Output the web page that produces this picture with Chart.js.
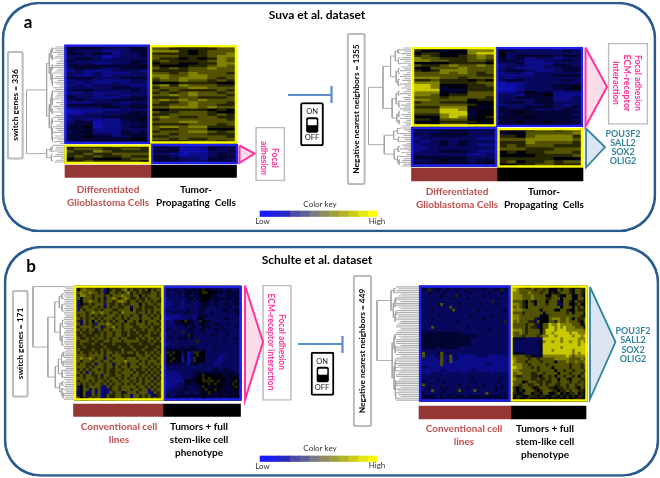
<!DOCTYPE html>
<html><head><meta charset="utf-8">
<script src="https://cdn.jsdelivr.net/npm/chart.js@4/dist/chart.umd.min.js"></script>
<style>html,body{margin:0;padding:0;background:#fff}canvas{display:block;filter:blur(0.4px)}</style>
</head><body><canvas id="c" width="660" height="478"></canvas>
<script>
// Expression levels: 0 bright blue ... 5 black ... 9 bright yellow
const levelColors=['#1414e0','#1010b0','#0c0c88','#08085c','#040434','#00000c','#262600','#525200','#808000','#c8c800'];
const keyColors=['#1a1aff','#2020e0','#2a2ac0','#4a4aa8','#5f5f98','#7a7a80','#8c8c60','#a0a040','#b4b428','#cccc18','#e6e60c','#ffff00'];

const suvaSwitchUpDiff=["444444445","444433344","433322344","443442334","333312334","344323333","433333344","333223343","444444445","344433444","232223332","332322233","322323333","444333444","233222233","323223233","232333322","333334433","344333343","223222333","333233233","433222344","343334444","222333233","444443344","333344344","122222333","112233344","223333444","333344444","232222445","344122344","344122334","445122344","444222333","345222434","444332444","445443344","444444455","344444445"];
const suvaSwitchUpTpc=["887666788","776666677","888656777","666656778","777666788","766565687","676666787","566556688","655566787","767677877","666677777","776787776","887788777","787888767","677877676","555666655","786877766","677788777","767666676","676787767","778787776","666776667","787878777","766787776","667787766","778887877","556666565","766777655","667777676","787667766","677777776","777887777","666677767","788788666","766777555","677788767","776777666","667777776","776766777","666677767"];
const suvaSwitchLowDiff=["666667666","677766776","766876666","667667777","676766766","566555677","667666665"];
const suvaSwitchLowTpc=["443222444","334112433","444111334","332122343","443222344","444332443","444333444"];
const suvaNegUpDiff=["665445888","655455888","566555899","676556787","877666787","887766776","555566665","766787787","557778777","656888777","777878767","777777766","888776777","667666565","888666677","998555667","998455666","999444666","888545777","887566777","777677776","887777566","677666555","777777655","666888544","777998455","777999455","666899455","555898456","665777555","555666655","665777545"];
const suvaNegUpTpc=["433444333","443333343","533333333","534444344","434233233","443223343","334222333","233223443","332223344","344322344","233233333","222233444","323333333","344333343","122333333","112333444","112333445","112333344","223544222","332445222","334444223","333344223","344344333","233334323","433444334","444433343","445444444","344444443","444544444","444444443","445445444","444444443"];
const suvaNegLowDiff=["444444444","333444333","334444333","233333322","323434333","233434322","223333333","233444322","333333223","444444333","334544344","444444445"];
const suvaNegLowTpc=["554677677","455777778","665788886","777888887","666877776","676777666","777666777","565667776","555566667","666666555","675667677","556677666"];
const schulteSwitchConv=["767766776765766777676767776776","757877766725676678676676757677","678778776725776767867676667767","768877677767677787767757677767","675777676737787678766766767776","725778776767767887677676776766","725667677727667676677757677677","726776776737677667737767666767","727677767677766777757667676777","677767877877677687777677676767","767767676767776767767737767676","776767767677767767677767776776","763767576767676775776757677767","773767627778767767766777676776","667777677367786767776677767667","776767737677677767767667677676","667667666767767766766766676767","766766676767767766766676776667","776676767767677677666767677676","767776676677677767777766676767","667666766766676666766676667666","666766666676666766676666766676","676666766767666676667667666766","767667676767767676776766767676","777767777767677766666776776767","678778767737767776777677767677","776777677677677778777767677767","767766737767737767377677676777","677767677767767677677767767676","767676776767667767767667676767","776737677767667677776766767673","667677667377667767767767676767","777677767676776767677676767376","767776767767677677767676776767","676767677676767767676776767677","735767777237677677777677676767","725773737232677677767767737677","335733727232767736777677723767","735733767237667767737767673367","775667677237667767737767676767"];
const schulteSwitchTumor=["44443444344445554444344444","34344334445456554444344334","33333434544456655544344444","33333334434455554433344434","23333333453445554444444344","22333323433355543443343444","32233323333334443433443344","22333223332344433343334333","33323333433344333333443344","43343334433343334333343344","22222233332344433333333334","11222223332454333333443333","33234456543365443333333333","33234445443355433443343334","33333334344334443334333343","34333333443344333443433333","33343363344334333333343333","33333334643333334433343333","33433444343333333333333343","33333333333633333333433333","22333333333333333333333333","33333343344333333433333333","44444444544434333333333333","46565535136655333333333333","35655524135655333332233333","35565515136555333322333333","45654514136555333322333333","44444443145433333223333333","33333333333333333333333333","23333333333333333443443333","32222333334444444444444433","22222233334456555555445444","22222233344556565555544554","12222225544556666565544565","11222334544455565655445654","22223334334446545555444565","22333344433445655654444454","33333443343345465444445444","34334444444445444445444445","44344444434445444444344444"];
const schulteNegConv=["443343444434344634435444343344","343634433433433433433433344634","333433334333333343333334333433","333333343333643333333433333333","334333333334333343333333334333","333333333333333333333333633333","433333473333343334334333343333","333333333373333333333333333333","333343333337333333343333333343","233333333333333333333333333333","333333433333333334333333433333","333343333333333333333433333333","333333333333433333333333333363","233333333333333333333333333333","333373333333333343333333333333","333333333333333333333334333333","444444444444443333333333333333","444444444444444444433333333333","445444444454444443333333333333","444444444444444443333333333333","544444454444444443333333333333","444444344444433333333333333333","333333333333333333333333333333","373333473433333333333333333333","372323372373322222233332222233","232222372372322222222222222222","222222272372222222222222222222","222222272222222222222233222222","333222222222222222222222222232","222222233222222223322222222222","332233332333332333333333233333","333333333333333333333333333333","333333433333333334333333333433","343333334333333333433333334333","373333333333343333333433333333","433433343433333343343333343433","333373334333373333733333343333","343333343334333333333373333343","344443343443444344444344444344","444444344344443444443444344444"];
const schulteNegTumor=["88877558767775544577665576","99877777677675557677657766","88877787776775656777657765","88887778777755776557755765","88887778777766777577755775","77776576577757773577657665","88876377577767773377556755","77876577777777777577757675","88887777775777755776557666","77776777777577777776757775","88877777775557777777777765","88877777635557888778757667","87877766375557768778777657","77777677635779889888877756","77777676635779989898887775","88887677775799989998888887","77787677775799899999899888","87776777767889989999989989","44444333333999999899999888","33333333344899899899899898","33333333344999999999999899","33333333334999999899999999","33333333334999899999989999","44444333334999999999989899","77777664444888888889878888","88777767767777788888777787","98777677776777757778778778","88887767777767777777677767","99887776767777577777677767","88877777767777757767767776","87887776677677775777677767","77667776665776757767767577","88777776676676775776577766","77775677766766776777677676","87767766776767766776776776","66567776567776656676776576","76565777656777665667677665","56556775665775567565667565","65665566656655665656565665","55655665565565656556556655"];

// Dendrograms: node = [merge height, child, child], leaf = row position 0..1
const treeSuvaSwitch=[1,[.24,[.14,[.07,[.03,.015,.05],[.03,.08,.12]],[.08,[.03,.16,.2],[.04,[.02,.24,.27],[.02,.3,.34]]]],[.14,[.08,[.04,[.02,.38,.42],[.02,.46,.5]],[.03,.54,.58]],[.07,[.03,.62,.66],[.04,[.02,.7,.74],[.02,.78,.82]]]]],[.24,[.08,[.03,.86,.88],.9],[.06,.93,.98]]];
const treeSuvaNeg=[1,[.54,[.3,[.15,[.06,.02,.05],[.05,.09,.14]],[.12,[.05,.18,.22],[.06,.27,.32]]],[.25,[.12,[.05,.37,.4],[.04,.45,.5]],[.1,[.04,.54,.58],[.03,.61,.64]]]],[.5,[.2,[.08,.68,.72],[.05,.75,.79]],[.18,[.06,.83,.87],[.08,.91,[.03,.94,.98]]]]];
const treeSchulteSwitch=[1,.005,[.52,[.3,[.15,[.07,.07,.11],[.06,.16,.22]],[.12,[.05,.3,.36],[.06,.44,.52]]],[.28,[.18,[.08,[.03,.58,.62],[.03,.66,.7]],[.06,.74,.8]],[.14,[.06,.84,.87],[.07,.9,[.03,.94,.98]]]]]];
const treeSchulteNeg=[1,[.26,[.1,.02,.06],[.14,[.06,[.02,.1,.14],.18],[.05,[.02,.22,.26],.31]]],[.2,[.1,[.05,.42,.46],[.05,.52,.58]],[.1,[.05,[.02,.64,.68],.74],[.04,[.02,.82,.87],[.02,.93,.98]]]]];
// Leaf tip lengths (digit = share of the tip band)
const tipsSuvaSwitch="797957936689579279586397956792639759279583697592795839679579268";
const tipsSuvaNeg="695837959285936957295836927593859628593647952968593759283957968";
const tipsSchulteSwitch="979989798997989979989799799897998997989979989799879979898979989";
const tipsSchulteNeg="989978997998799989978997899879997999897998989798997899979898799";

const blue='#2020ee',yellow='#fafa00',pink='#ff3399',teal='#31859c',brick='#c0504d',inhibit='#5b8dc6',boxGrey='#bdbdbd',navy='#2b5c8f';

const datasets=[];
function rect(x0,x1,y0,y1,o={}){
  datasets.push(Object.assign({type:'bar',data:[{x:(x0+x1)/2,y:[y0,y1]}],barThickness:x1-x0,grouped:false,borderSkipped:false,
    backgroundColor:'rgba(0,0,0,0)',borderWidth:0,order:4,clip:false},o));
}
function heat(rows,x0,x1,y0,y1){
  const n=rows[0].length,m=rows.length,w=(x1-x0)/n,h=(y1-y0)/m,data=[],colors=[];
  rect(x0,x1,y0,y1,{backgroundColor:'#0a0a18',order:4});
  rows.forEach((r,i)=>{[...r.slice(0,n)].forEach((d,j)=>{
    data.push({x:x0+w*(j+.5),y:[y0+h*i,y0+h*(i+1)+.4]});colors.push(levelColors[+d]);
  });});
  datasets.push({type:'bar',data,backgroundColor:colors,barThickness:w+.4,grouped:false,borderWidth:0,order:3,clip:false});
}
function poly(points,stroke,fill,width,order){
  datasets.push({type:'line',data:points.map(p=>({x:p[0],y:p[1]})),borderColor:stroke,borderWidth:width,
    backgroundColor:fill||'rgba(0,0,0,0)',fill:fill?'shape':false,pointRadius:0,tension:0,order:order||1,clip:false,borderJoinStyle:'miter'});
}
function dendro(tree,xRoot,xLeaf,y0,y1,tips,xTipEnd){
  const pts=[],gap={x:NaN,y:NaN};
  const walk=n=>{
    if(typeof n==='number')return{x:xLeaf,y:y0+n*(y1-y0)};
    const a=walk(n[1]),b=walk(n[2]),x=xLeaf-n[0]*(xLeaf-xRoot),y=(a.y+b.y)/2;
    pts.push({x:a.x,y:a.y},{x,y:a.y},{x,y:b.y},{x:b.x,y:b.y},gap);
    return{x,y};
  };
  walk(tree);
  datasets.push({type:'line',data:pts,borderColor:'#a4a4a4',borderWidth:.9,pointRadius:0,tension:0,fill:false,order:2,clip:false,spanGaps:false});
  const tp=[];
  [...tips].forEach((d,i)=>{const y=y0+(i+.5)*(y1-y0)/tips.length;
    tp.push({x:xTipEnd,y},{x:xTipEnd-(+d+1)/10*(xTipEnd-xLeaf),y},gap);});
  datasets.push({type:'line',data:tp,borderColor:'#b0b0b0',borderWidth:1.1,pointRadius:0,tension:0,fill:false,order:2,clip:false,spanGaps:false});
}
function frame(x0,x1,y0,y1,c){rect(x0,x1,y0,y1,{borderColor:c,borderWidth:1.9,order:1});}
function labelBox(x0,x1,y0,y1,w,r){rect(x0,x1,y0,y1,{borderColor:boxGrey,borderWidth:w,borderRadius:r||0,order:2});}
function toggle(x,y){
  rect(x,x+23,y,y+43.5,{borderColor:'#000',borderWidth:2,borderRadius:2,backgroundColor:'#fff',order:2});
  rect(x+6,x+17.5,y+15,y+30,{backgroundColor:'#000',borderRadius:2,order:1});
  rect(x+7.5,x+16,y+17,y+22.5,{backgroundColor:'#fff',borderRadius:1,order:0});
}
function key(y){
  const w=(377-260)/keyColors.length;
  keyColors.forEach((c,i)=>rect(260+w*i,260+w*(i+1)+.3,y,y+5.5,{backgroundColor:c}));
}

// panels
rect(2,656,2,232,{borderColor:navy,borderWidth:2,borderRadius:36,order:9});
rect(4,659,246,476.5,{borderColor:navy,borderWidth:2,borderRadius:36,order:9});

// panel a, left
dendro(treeSuvaSwitch,26.5,53,46,163,tipsSuvaSwitch,64.5);
heat(suvaSwitchUpDiff,65,149.5,45.5,143);heat(suvaSwitchUpTpc,150.5,236.5,45.5,143);
heat(suvaSwitchLowDiff,65,150.5,145.5,163);heat(suvaSwitchLowTpc,151,237,145.5,163);
frame(64.5,149.5,44.5,144,blue);frame(150,237,45,143.5,yellow);frame(64.5,151,144.5,164,yellow);frame(151,238,144,164,blue);
rect(65,151,165,177.5,{backgroundColor:'#943634'});rect(151,236.5,165,177.5,{backgroundColor:'#000'});
poly([[239.5,145.5],[254.5,153.5],[239.5,163],[239.5,145.5]],pink,'#fbdce9',2);
labelBox(255.5,285,127,181,1);
labelBox(7,23.5,51,159.5,1.6,3);
// panel a, right
dendro(treeSuvaNeg,368.5,400,47,167,tipsSuvaNeg,411);
heat(suvaNegUpDiff,412.5,495.5,47.5,126);heat(suvaNegUpTpc,496.5,582,47.5,126);
heat(suvaNegLowDiff,411.5,496,127.5,166);heat(suvaNegLowTpc,498,582.5,128.5,167);
frame(412,496,47,126.5,yellow);frame(496,583,47,127,blue);frame(411,497,127,166.5,blue);frame(497.5,583,128,167.5,yellow);
rect(411.5,497,168,181,{backgroundColor:'#943634'});rect(497,583,168,181,{backgroundColor:'#000'});
poly([[585.5,47.5],[607,87],[585.5,126.5],[585.5,47.5]],pink,'#fbdce9',2);
poly([[586,128.5],[605,147],[586,167.5],[586,128.5]],teal,'#dce6f2',1.8);
labelBox(608,648,43,124.5,1);
labelBox(347,365.5,33,185,1.6,3);
// panel a, middle
poly([[288,95],[331,95]],inhibit,null,2);poly([[331.5,86],[331.5,103]],inhibit,null,2.2);
toggle(300.5,102.5);
key(211);

// panel b, left
dendro(treeSchulteSwitch,33,64,286,400,tipsSchulteSwitch,74);
heat(schulteSwitchConv,74.5,163,286,400);heat(schulteSwitchTumor,164,241,286,400);
frame(74,163.5,285.5,400.5,yellow);frame(163.5,241.5,286,400.5,blue);
rect(73.5,163,404,416.5,{backgroundColor:'#943634'});rect(163,240.5,404,416.5,{backgroundColor:'#000'});
poly([[245,285.5],[263,342],[245,400],[245,285.5]],pink,'#fbdce9',2);
labelBox(262.5,291.5,285,400.5,1);
labelBox(12,28.5,290,397.5,1.6,3);
// panel b, right
dendro(treeSchulteNeg,377,396,286,401,tipsSchulteNeg,419);
heat(schulteNegConv,419.5,510,286,401);heat(schulteNegTumor,511,587,286,401);
frame(419,510.5,285.5,401.5,blue);frame(510.5,587.5,285.5,401.5,yellow);
rect(419,511,406,419,{backgroundColor:'#943634'});rect(511,586,406,419,{backgroundColor:'#000'});
poly([[590,287],[615.5,342],[590,399],[590,287]],teal,'#dce6f2',1.8);
labelBox(353,372,275,427,1.6,3);
// panel b, middle
poly([[298,344],[342,344]],inhibit,null,2);poly([[342.5,336],[342.5,353]],inhibit,null,2.2);
toggle(311,352);
key(456);

const B='bold ',F='Lato, "Open Sans", sans-serif';
const texts=[
 ['Suva et al. dataset',317,15,0,'#000',B+'12px '+F],
 ['a',28,23,0,'#000',B+'17px '+F],
 ['switch genes = 336',15.5,105,-90,'#000',B+'8.4px '+F],
 ['Differentiated',108,190,0,brick,B+'10px '+F],
 ['Glioblastoma Cells',108,203,0,brick,B+'10px '+F],
 ['Tumor-',196,190,0,'#000',B+'10px '+F],
 ['Propagating  Cells',196,203,0,'#000',B+'10px '+F],
 ['Focal',275,158,90,pink,B+'8.5px '+F],
 ['adhesion',264,158,90,pink,B+'8.5px '+F],
 ['ON',312,111.5,0,'#222','7.5px '+F],['OFF',312,138,0,'#222','7.5px '+F],
 ['Color key',320,204,0,'#333','8px '+F],
 ['Low',262.5,221.5,0,'#333','8px '+F],['High',377,221,0,'#333','8px '+F],
 ['Negative nearest neighbors = 1355',356.5,109,-90,'#000',B+'8.3px '+F],
 ['Differentiated',457,192,0,brick,B+'10px '+F],
 ['Glioblastoma Cells',457,205,0,brick,B+'10px '+F],
 ['Tumor-',544,192,0,'#000',B+'10px '+F],
 ['Propagating  Cells',544,205,0,'#000',B+'10px '+F],
 ['Focal adhesion',638,83,90,pink,B+'8.5px '+F],
 ['ECM-receptor',627,83,90,pink,B+'9px '+F],
 ['interaction',616,83,90,pink,B+'9px '+F],
 ['POU3F2',623,134,0,teal,B+'9px '+F],['SALL2',623,143,0,teal,B+'9px '+F],
 ['SOX2',623,152,0,teal,B+'9px '+F],['OLIG2',623,161,0,teal,B+'9px '+F],
 ['Schulte et al. dataset',317,260,0,'#000',B+'12px '+F],
 ['b',31,267,0,'#000',B+'17px '+F],
 ['switch genes = 171',20.5,343.5,-90,'#000',B+'8.4px '+F],
 ['Conventional cell',119,427,0,brick,B+'10px '+F],['lines',119,440,0,brick,B+'10px '+F],
 ['Tumors + full',199,427,0,'#000',B+'10px '+F],['stem-like cell',199,440,0,'#000',B+'10px '+F],['phenotype',199,453,0,'#000',B+'10px '+F],
 ['Focal adhesion',282,342,90,pink,B+'8.5px '+F],['ECM-receptor interaction',271,342,90,pink,B+'8.5px '+F],
 ['ON',322,361.5,0,'#222','7.5px '+F],['OFF',322,388,0,'#222','7.5px '+F],
 ['Color key',320,448.5,0,'#333','8px '+F],
 ['Low',262.5,466,0,'#333','8px '+F],['High',377,465.5,0,'#333','8px '+F],
 ['Negative nearest neighbors = 449',362.5,351,-90,'#000',B+'8.3px '+F],
 ['Conventional cell',464,429,0,brick,B+'10px '+F],['lines',464,442,0,brick,B+'10px '+F],
 ['Tumors + full',545,429,0,'#000',B+'10px '+F],['stem-like cell',545,442,0,'#000',B+'10px '+F],['phenotype',545,455,0,'#000',B+'10px '+F],
 ['POU3F2',633,331,0,teal,B+'9px '+F],['SALL2',633,340.5,0,teal,B+'9px '+F],
 ['SOX2',633,350,0,teal,B+'9px '+F],['OLIG2',633,359,0,teal,B+'9px '+F],
];
const textPlugin={id:'figureText',afterDatasetsDraw(ch){
  const c=ch.ctx,sx=ch.scales.x,sy=ch.scales.y;
  texts.forEach(([s,x,y,rot,col,font])=>{
    c.save();c.translate(sx.getPixelForValue(x),sy.getPixelForValue(y));c.rotate(rot*Math.PI/180);
    c.font=font;c.fillStyle=col;c.textAlign='center';c.textBaseline='middle';c.fillText(s,0,0);c.restore();
  });
}};
new Chart(document.getElementById('c'),{
  type:'bar',
  data:{datasets},
  plugins:[textPlugin],
  options:{responsive:false,animation:false,devicePixelRatio:1,layout:{padding:0},
    plugins:{legend:{display:false},tooltip:{enabled:false}},events:[],
    scales:{x:{type:'linear',min:0,max:660,offset:false,display:false},
            y:{type:'linear',min:0,max:478,reverse:true,display:false}}}
});
</script></body></html>
